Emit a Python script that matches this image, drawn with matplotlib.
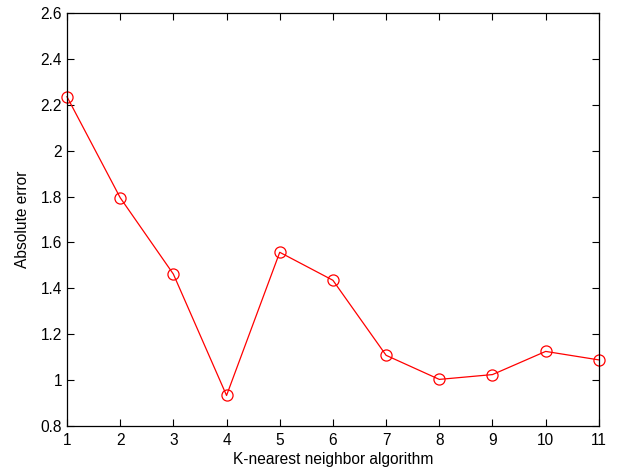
import matplotlib
matplotlib.use("Agg")
import matplotlib.pyplot as plt

k_values = [1, 2, 3, 4, 5, 6, 7, 8, 9, 10, 11]
abs_error = [2.235, 1.795, 1.462, 0.933, 1.557, 1.435, 1.108, 1.003, 1.024, 1.125, 1.088]

plt.rcParams["font.family"] = ["Liberation Sans", "DejaVu Sans"]

fig = plt.figure(figsize=(6.18, 4.72), dpi=100)
ax = fig.add_axes([0.1084, 0.0975, 0.8606, 0.875])

ax.plot(k_values, abs_error, color="red", linewidth=0.9, marker="o",
        markersize=8, markerfacecolor="none", markeredgecolor="red",
        markeredgewidth=0.9, clip_on=False)

ax.set_xlim(1, 11)
ax.set_ylim(0.8, 2.6)
ax.set_xticks(k_values)
ax.set_yticks([0.8, 1, 1.2, 1.4, 1.6, 1.8, 2, 2.2, 2.4, 2.6])
ax.set_yticklabels(["0.8", "1", "1.2", "1.4", "1.6", "1.8", "2", "2.2", "2.4", "2.6"])
ax.tick_params(direction="in", top=True, right=True, labelsize=11.2,
               length=5, width=0.8)
ax.tick_params(axis="x", pad=5)
for sp in ax.spines.values():
    sp.set_linewidth(0.9)

ax.set_xlabel("K-nearest neighbor algorithm", fontsize=11.2, labelpad=3)
ax.set_ylabel("Absolute error", fontsize=11.2, labelpad=8)

fig.savefig("out.png", dpi=100)
